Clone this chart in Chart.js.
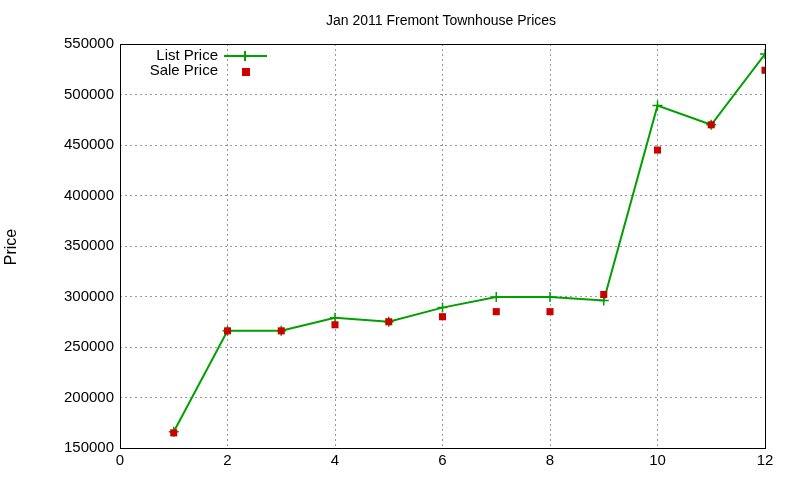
<!DOCTYPE html>
<html><head><script src="https://cdn.jsdelivr.net/npm/chart.js"></script>
<style>html,body{margin:0;background:#fff}#w{width:800px;height:480px}</style></head>
<body><div id="w"><canvas id="c"></canvas></div>
<script>
const months=[1,2,3,4,5,6,7,8,9,10,11,12];
const listPrice=[166000,266000,266000,279000,275000,289000,299500,299500,296000,489000,470000,540000];
const salePrice=[165000,266000,266000,272000,275000,280000,285000,285000,302000,445000,470000,524000];
const FONT='"Liberation Sans", Arial, sans-serif';
const green='#00a000', red='#cc0000';
const deco={id:'deco',afterDraw(ch){
  const c=ch.ctx,a=ch.chartArea;
  c.save();
  c.strokeStyle='#000';c.lineWidth=1;c.strokeRect(a.left+0.5,a.top+0.5,a.right-a.left,a.bottom-a.top);
  c.fillStyle='#000';c.font='14px '+FONT;c.textAlign='center';c.textBaseline='middle';
  c.fillText('Jan 2011 Fremont Townhouse Prices',441,21);
  c.save();c.translate(12,247);c.rotate(-Math.PI/2);c.font='16px '+FONT;c.fillText('Price',0,0);c.restore();
  c.font='15px '+FONT;c.textAlign='right';
  c.fillText('List Price',218,56);c.fillText('Sale Price',218,71);
  c.strokeStyle=green;c.lineWidth=2;
  c.beginPath();c.moveTo(224,56);c.lineTo(267,56);c.moveTo(245,51);c.lineTo(245,61);c.stroke();
  c.fillStyle=red;c.fillRect(242,68,8,8);
  c.restore();
}};
new Chart(document.getElementById('c'),{
  type:'line',
  data:{datasets:[
    {label:'Sale Price',order:0,data:months.map((m,i)=>({x:m,y:salePrice[i]})),showLine:false,borderColor:red,backgroundColor:red,pointStyle:'rect',pointRadius:5,pointBorderWidth:0},
    {label:'List Price',order:1,data:months.map((m,i)=>({x:m,y:listPrice[i]})),borderColor:green,backgroundColor:green,borderWidth:2,pointStyle:'cross',pointRadius:5,pointBorderWidth:1.5,tension:0}
  ]},
  options:{responsive:true,maintainAspectRatio:false,animation:false,
    layout:{padding:{top:44,right:35,left:0,bottom:0}},
    plugins:{legend:{display:false},title:{display:false},tooltip:{enabled:false}},
    scales:{
      x:{type:'linear',min:0,max:12,ticks:{stepSize:2,color:'#000',font:{family:FONT,size:15},padding:4},
        grid:{color:'#999',drawTicks:false},border:{display:false,dash:[2,3]},
        afterFit(s){s.height=32;}},
      y:{min:150000,max:550000,ticks:{stepSize:50000,color:'#000',font:{family:FONT,size:15},padding:6,callback:v=>String(v)},
        grid:{color:'#999',drawTicks:false},border:{display:false,dash:[2,3]},
        afterFit(s){s.width=120;}}
    }
  },
  plugins:[deco]
});
</script></body></html>
